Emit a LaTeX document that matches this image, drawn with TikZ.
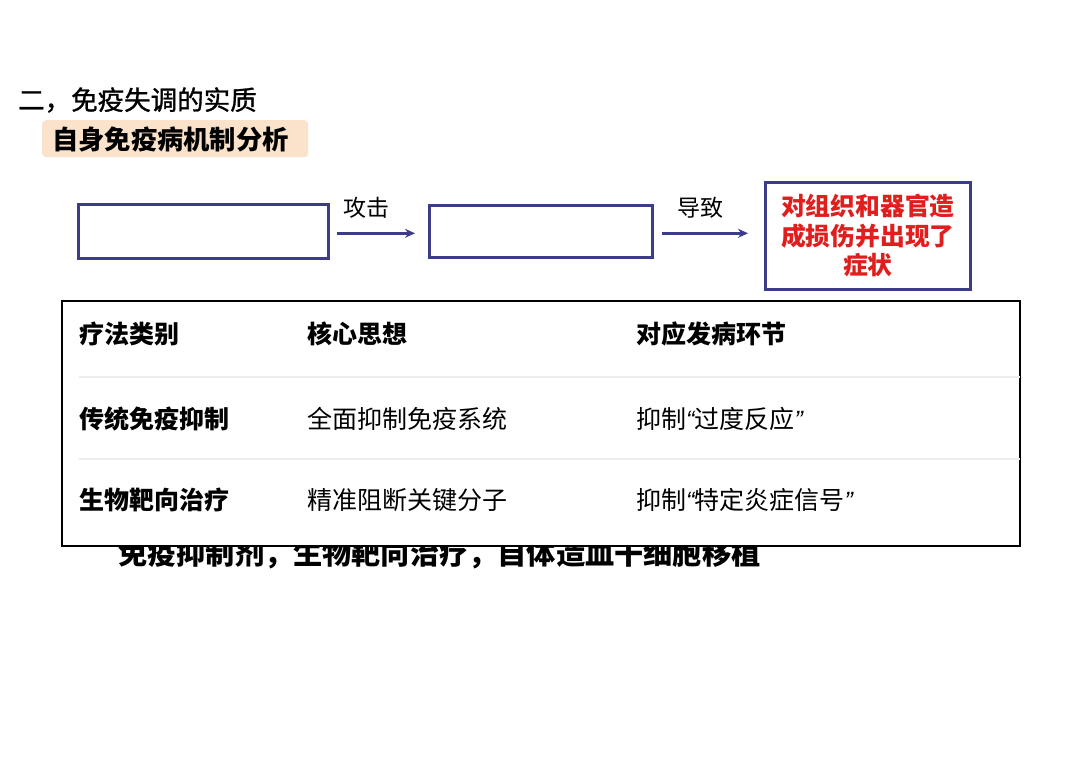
\documentclass[tikz,border=0pt]{standalone}
\usepackage{fontspec}
\setmainfont{Noto Sans CJK SC}
\newfontfamily\quotefont{Liberation Sans}
\newfontfamily\medfont{Noto Sans CJK SC}[FakeBold=1.2]
\usetikzlibrary{arrows.meta}
\definecolor{navy}{HTML}{3C3C8A}
\definecolor{alertred}{HTML}{E01E1E}
\definecolor{peach}{HTML}{FBE3CB}
\definecolor{sepgray}{HTML}{EDEDED}
\newcommand{\myopenq}{{\quotefont\itshape “}}
\newcommand{\myclosq}{{\quotefont\itshape ”}}
\begin{document}
\begin{tikzpicture}[x=1pt,y=-1pt,
  flowbox/.style={draw=navy,line width=2.6pt,fill=white,inner sep=0pt},
  flowarrow/.style={draw=navy,line width=2.8pt,-{Stealth[length=10pt,width=9pt]}},
  flowlabel/.style={inner sep=0pt,font=\fontsize{23}{27}\selectfont},
  txt/.style={inner sep=0pt,anchor=west},
  cell/.style={inner sep=0pt,anchor=west,font=\fontsize{25}{29}\selectfont},
  hcell/.style={cell,font=\fontsize{25}{29}\selectfont\bfseries}]
\useasboundingbox (0,0) rectangle (1080,764);
\fill[white] (0,0) rectangle (1080,764);
% titles
\node[txt,font=\fontsize{26.5}{31}\medfont] (title) at (18,100) {二，免疫失调的实质};
\node[draw=none,fill=peach,rounded corners=4pt,minimum width=266pt,minimum height=37pt,anchor=north west,inner sep=0pt] (lblbox) at (42,120) {};
\node[txt,font=\fontsize{26.3}{31}\selectfont\bfseries] (lbl) at (52,139) {自身免疫病机制分析};
% flow
\node[flowbox,minimum width=250pt,minimum height=54pt,anchor=north west] (b1) at (77,203) {};
\node[flowbox,minimum width=223pt,minimum height=52pt,anchor=north west] (b2) at (428,204) {};
\node[flowbox,minimum width=205pt,minimum height=107pt,anchor=north west] (b3) at (764,181) {};
\node[align=center,inner sep=0pt,text=alertred,font=\fontsize{24.8}{29.5}\selectfont\bfseries] (b3t) at (b3.center) {对组织和器官造\\成损伤并出现了\\症状};
\draw[flowarrow] ([xshift=7pt,yshift=-2pt]b1.east) -- ([xshift=-13pt,yshift=-2pt]b1.east -| b2.west);
\draw[flowarrow] ([xshift=8pt,yshift=-2pt]b2.east) -- ([xshift=-16pt,yshift=-2pt]b2.east -| b3.west);
\node[flowlabel] (l1) at (366,208) {攻击};
\node[flowlabel] (l2) at (700,208) {导致};
% partly hidden bottom text
\node[txt,font=\fontsize{29.2}{34}\selectfont\bfseries] (bottom) at (118,554) {免疫抑制剂，生物靶向治疗，自体造血干细胞移植};
% table
\node[draw=black,line width=2pt,fill=white,minimum width=958pt,minimum height=245pt,anchor=north west,inner sep=0pt] (tbl) at (61,300) {};
\draw[sepgray,line width=2pt] (79,377) -- ([xshift=-1pt]tbl.east |- 0,377);
\draw[sepgray,line width=2pt] (79,459) -- ([xshift=-1pt]tbl.east |- 0,459);
\node[hcell] (h1) at (79,334) {疗法类别};
\node[hcell] (h2) at (307,334) {核心思想};
\node[hcell] (h3) at (636,334) {对应发病环节};
\node[hcell] (r1a) at (79,419) {传统免疫抑制};
\node[cell] (r1b) at (307,419) {全面抑制免疫系统};
\node[cell] (r1c) at (636,419) {抑制\myopenq 过度反应\myclosq};
\node[hcell] (r2a) at (79,500) {生物靶向治疗};
\node[cell] (r2b) at (307,500) {精准阻断关键分子};
\node[cell] (r2c) at (636,500) {抑制\myopenq 特定炎症信号\myclosq};
\end{tikzpicture}
\end{document}
